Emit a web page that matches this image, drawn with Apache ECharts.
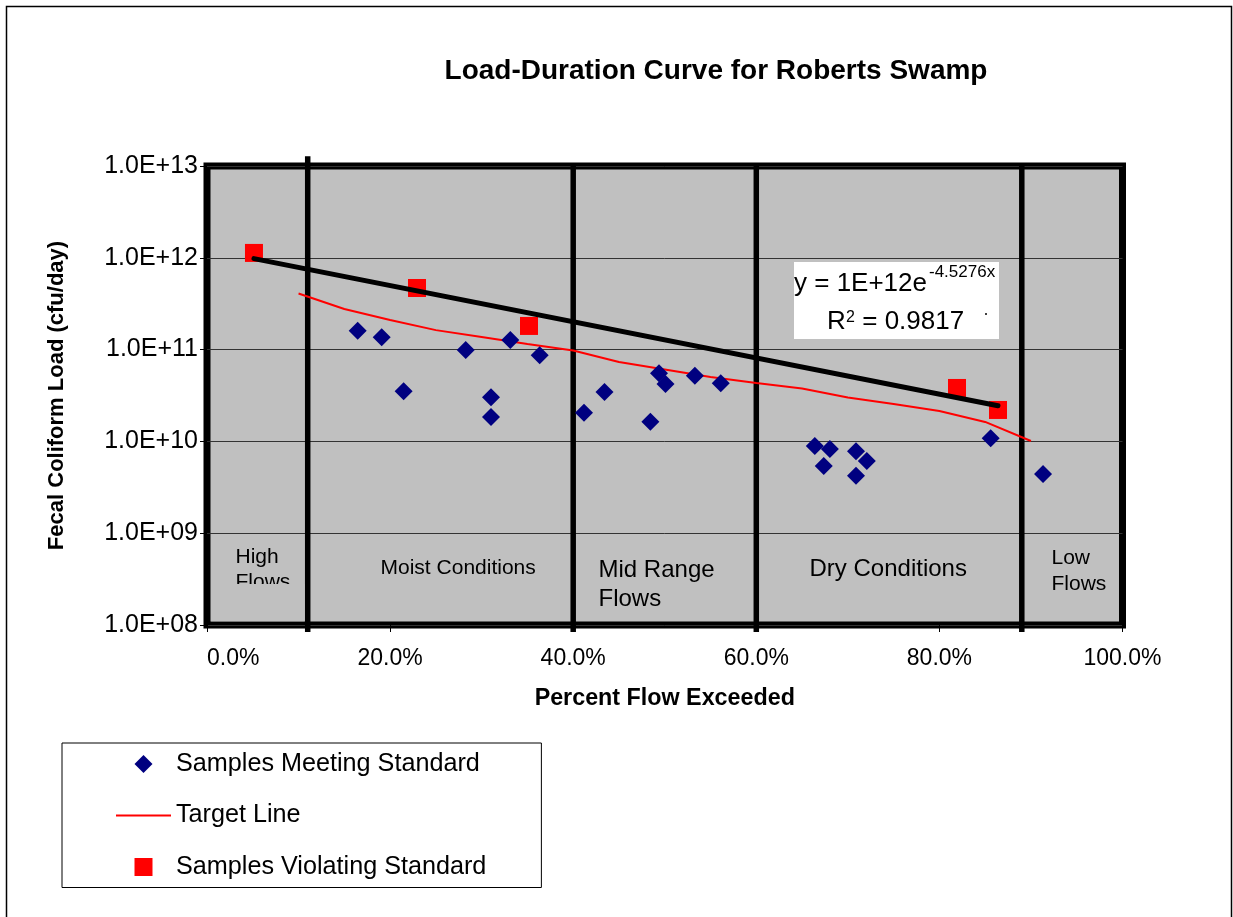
<!DOCTYPE html>
<html><head><meta charset="utf-8">
<script src="https://cdn.jsdelivr.net/npm/echarts@6/dist/echarts.min.js"></script>
<style>html,body{margin:0;padding:0;background:#fff}#c{width:1233px;height:917px}</style>
</head><body><div id="c"></div>
<script>
const FONT = '"Liberation Sans", Arial, Helvetica, sans-serif';

// ---- data (x = percent flow exceeded, y = cfu/day) ----
const meetingX = [16.46, 19.08, 21.48, 28.26, 31.02, 31.02, 33.13, 36.34, 41.18, 43.42, 48.43, 49.37, 50.08, 53.29, 56.12, 66.39, 68.04, 67.37, 70.89, 72.07, 70.89, 85.6, 91.32];
const meetingY = [1.60e11, 1.36e11, 3.51e10, 9.9e10, 3.02e10, 1.84e10, 1.27e11, 8.67e10, 2.05e10, 3.45e10, 1.64e10, 5.52e10, 4.22e10, 5.2e10, 4.3e10, 8.9e9, 8.26e9, 5.4e9, 7.8e9, 6.1e9, 4.23e9, 1.08e10, 4.42e9];
const violatingX = [5.13, 22.94, 35.17, 81.92, 86.4];
const violatingY = [1.13e12, 4.69e11, 1.81e11, 3.82e10, 2.2e10];
const targetX = [10, 15, 20, 25, 30, 35, 40, 45, 50, 55, 60, 65, 70, 75, 80, 85, 90];
const targetY = [4.08e11, 2.77e11, 2.1e11, 1.63e11, 1.37e11, 1.15e11, 9.77e10, 7.33e10, 6.07e10, 5.02e10, 4.32e10, 3.77e10, 3.01e10, 2.55e10, 2.14e10, 1.63e10, 1.01e10];
const trendX = [5.13, 86.4];
const trendY = [9.8e11, 2.45e10];
const zoneBounds = [11, 40, 60, 89];
const zoneNames = ['High\nFlows', 'Moist Conditions', 'Mid Range\nFlows', 'Dry Conditions', 'Low\nFlows'];
const zoneLabelX = [3.06, 18.9, 42.71, 65.76, 92.19];
const zoneLabelY = [4.03e8, 4.18e8, 2.76e8, 4.07e8, 3.87e8];
const yMin = 1e8, yMax = 1e13;

const zip = (a, b) => a.map((v, i) => [v, b[i]]);

const zoneSeries = zoneBounds.map((b, i) => ({
  type: 'line', name: 'zone' + i, silent: true, clip: false, z: 1,
  symbol: 'none', animation: false,
  lineStyle: { color: '#000', width: 5.5 },
  data: [[b, yMin / 1.19], [b, i === 0 ? yMax * 1.28 : yMax]]
}));

const zoneFont = [21, 21, 24, 24, 21];
const zoneLH = [25, 25, 29, 25, 26];

// legend icons drawn inside a 55x18 box
const ICON_DIAMOND = 'path://M0,0M55,18M18.5,9L27.5,0L36.5,9L27.5,18Z';
const ICON_LINE = 'path://M0,0M55,18M0,8h55v2h-55Z';
const ICON_SQUARE = 'path://M0,0M55,18M18.5,0h18v18h-18Z';

const chart = echarts.init(document.getElementById('c'), null, { renderer: 'canvas' });
chart.setOption({
  animation: false,
  backgroundColor: '#fff',
  textStyle: { fontFamily: FONT },
  title: {
    text: 'Load-Duration Curve for Roberts Swamp',
    left: 711, top: 52, textAlign: 'center',
    textStyle: { fontFamily: FONT, fontSize: 28, fontWeight: 'bold', color: '#000' }
  },
  grid: {
    left: 207, right: 110.5, top: 166, bottom: 292,
    show: true, backgroundColor: '#C0C0C0', borderColor: '#000', borderWidth: 7
  },
  legend: {
    orient: 'vertical', left: 62, top: 743,
    padding: [8.5, 55, 8, 54], itemGap: 26.5,
    itemWidth: 55, itemHeight: 18,
    borderColor: '#000', borderWidth: 1, backgroundColor: '#fff',
    textStyle: { fontFamily: FONT, fontSize: 25.2, color: '#000' },
    data: [
      { name: 'Samples Meeting Standard', icon: ICON_DIAMOND },
      { name: 'Target Line', icon: ICON_LINE },
      { name: 'Samples Violating Standard', icon: ICON_SQUARE }
    ]
  },
  xAxis: {
    type: 'value', min: 0, max: 100, interval: 20,
    name: 'Percent Flow Exceeded', nameLocation: 'middle', nameGap: 62,
    nameTextStyle: { fontFamily: FONT, fontSize: 23.3, fontWeight: 'bold', color: '#000' },
    axisLine: { show: false },
    axisTick: { show: true, length: 7, lineStyle: { color: '#000', width: 1 } },
    splitLine: { show: false },
    axisLabel: {
      margin: 22, fontSize: 23, color: '#000', fontFamily: FONT,
      alignMinLabel: 'left',
      formatter: v => v.toFixed(1) + '%'
    }
  },
  yAxis: {
    type: 'log', logBase: 10, min: yMin, max: yMax,
    name: 'Fecal Coliform Load (cfu/day)', nameLocation: 'middle', nameRotate: 90, nameGap: 139,
    nameTextStyle: { fontFamily: FONT, fontSize: 22, fontWeight: 'bold', color: '#000' },
    axisLine: { show: false },
    axisTick: { show: true, length: 7, lineStyle: { color: '#000', width: 1 } },
    splitLine: { show: true, lineStyle: { color: '#333', width: 1 } },
    axisLabel: {
      margin: 9, fontSize: 25, color: '#000', fontFamily: FONT,
      formatter: v => '1.0E+' + String(Math.round(Math.log10(v))).padStart(2, '0')
    }
  },
  series: [
    ...zoneSeries,
    {
      type: 'line', name: 'Target Line', z: 2, symbol: 'none', silent: true,
      lineStyle: { color: '#FF0000', width: 2 }, itemStyle: { color: '#FF0000' },
      data: zip(targetX, targetY)
    },
    {
      type: 'scatter', name: 'Samples Meeting Standard', z: 3,
      symbol: 'diamond', symbolSize: 18, itemStyle: { color: '#000080', opacity: 1 },
      data: zip(meetingX, meetingY)
    },
    {
      type: 'scatter', name: 'Samples Violating Standard', z: 4,
      symbol: 'rect', symbolSize: 18, itemStyle: { color: '#FF0000', opacity: 1 },
      data: zip(violatingX, violatingY)
    },
    {
      type: 'line', name: 'trend', z: 5, symbol: 'none', silent: true,
      lineStyle: { color: '#000', width: 5, cap: 'round' },
      data: zip(trendX, trendY)
    },
    {
      type: 'scatter', name: 'zoneLabels', z: 3, silent: true,
      symbolSize: 1, itemStyle: { color: 'rgba(0,0,0,0)', opacity: 1 },
      label: { show: true, position: 'right', distance: 0, color: '#000', opacity: 1, fontFamily: FONT, align: 'left', verticalAlign: 'middle' },
      data: zoneNames.map((n, i) => ({
        value: [zoneLabelX[i], zoneLabelY[i]],
        label: { formatter: n, fontSize: zoneFont[i], lineHeight: zoneLH[i] }
      }))
    }
  ],
  graphic: [
    { type: 'rect', x: 6.5, y: 6.5, shape: { x: 0, y: 0, width: 1225, height: 940 }, style: { fill: 'none', stroke: '#000', lineWidth: 1.5 }, silent: true, z: 0 },
    { type: 'rect', x: 794, y: 262, shape: { x: 0, y: 0, width: 205, height: 77 }, style: { fill: '#fff' }, silent: true, z: 100 },
    { type: 'text', x: 794, y: 284, style: { text: 'y = 1E+12e', fontSize: 26, fontFamily: FONT, fill: '#000', align: 'left', verticalAlign: 'middle' }, silent: true, z: 101 },
    { type: 'text', x: 929, y: 272, style: { text: '-4.5276x', fontSize: 17, fontFamily: FONT, fill: '#000', align: 'left', verticalAlign: 'middle' }, silent: true, z: 101 },
    { type: 'text', x: 827, y: 322, style: { text: 'R', fontSize: 26, fontFamily: FONT, fill: '#000', align: 'left', verticalAlign: 'middle' }, silent: true, z: 101 },
    { type: 'text', x: 846, y: 318, style: { text: '2', fontSize: 16, fontFamily: FONT, fill: '#000', align: 'left', verticalAlign: 'middle' }, silent: true, z: 101 },
    { type: 'text', x: 855, y: 322, style: { text: ' = 0.9817', fontSize: 26, fontFamily: FONT, fill: '#000', align: 'left', verticalAlign: 'middle' }, silent: true, z: 101 },
    { type: 'circle', x: 986, y: 314, shape: { cx: 0, cy: 0, r: 1 }, style: { fill: '#000' }, silent: true, z: 101 }
  ]
});

// the "High Flows" text box in the original clips its second line: cover its lower part
const p1 = chart.convertToPixel({ gridIndex: 0 }, [0.45, 2.8e8]);
const p2 = chart.convertToPixel({ gridIndex: 0 }, [10.65, 1.1e8]);
chart.setOption({
  graphic: [{
    id: 'clipCover', type: 'rect', x: p1[0], y: p1[1],
    shape: { x: 0, y: 0, width: p2[0] - p1[0], height: p2[1] - p1[1] },
    style: { fill: '#C0C0C0' }, silent: true, z: 50
  }]
});
</script>
</body></html>
